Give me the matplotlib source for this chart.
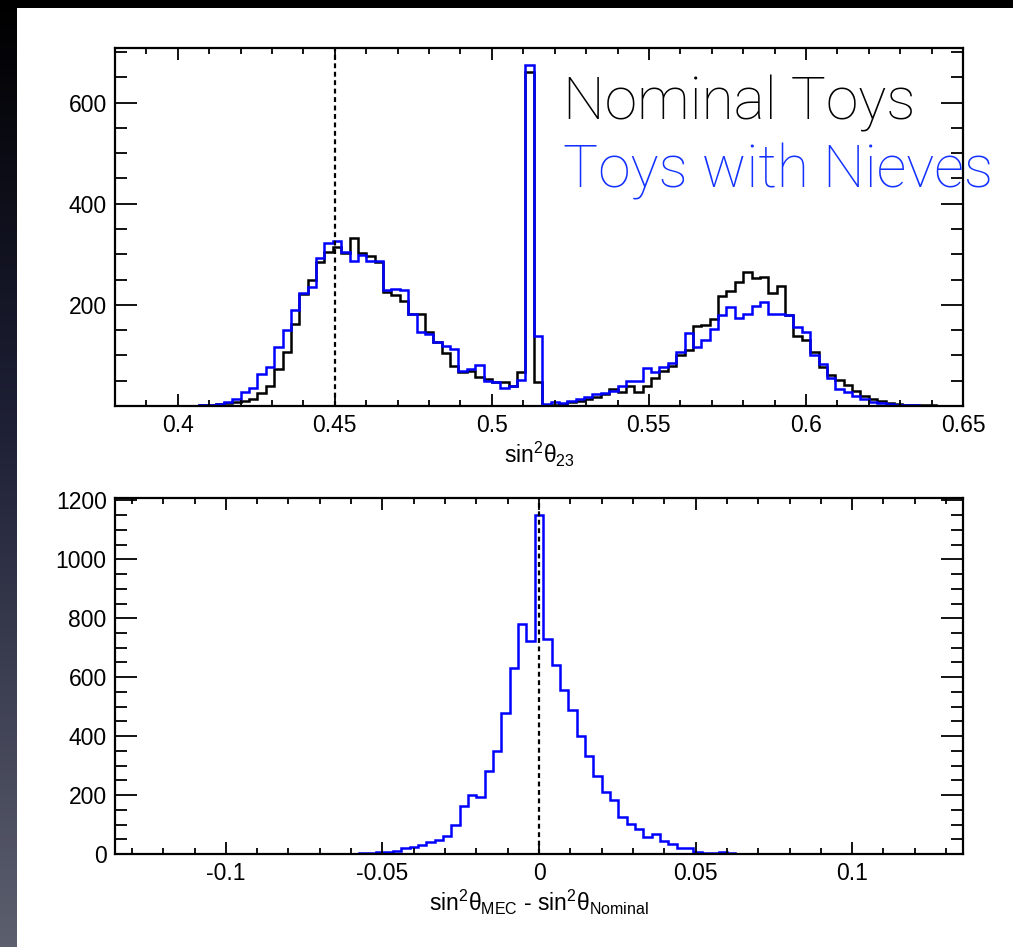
import numpy as np
import matplotlib
matplotlib.use("Agg")
import matplotlib.pyplot as plt
from matplotlib.colors import LinearSegmentedColormap
from matplotlib.ticker import MultipleLocator, FixedLocator, FuncFormatter

plt.rcParams['font.family'] = ['Liberation Sans', 'DejaVu Sans']
plt.rcParams['mathtext.fontset'] = 'custom'
plt.rcParams['mathtext.rm'] = 'Liberation Sans'
plt.rcParams['mathtext.it'] = 'Liberation Sans'
plt.rcParams['axes.unicode_minus'] = False

# sin^2(theta_23) fits, 0.38 .. 0.65, bin width 0.4/150
th23_width = 0.4 / 150
th23_lo = 0.38
nominal_toys = [
    0, 0, 0, 0, 0, 0, 0, 0, 0, 0, 1, 2,
    3, 5, 7, 10, 14, 25, 39, 73, 106, 163, 222, 250, 284, 305, 315, 303, 333,
    302, 296, 284, 226, 220, 207, 181, 181, 146, 126, 105, 80, 67, 70, 57, 53,
    47, 47, 40, 67, 661, 47,
    0, 2, 3, 7, 10, 13, 18, 24, 34, 27, 40, 27, 40, 55, 70, 80, 101, 110, 158,
    160, 172, 217, 228, 246, 265, 253, 255, 224, 238, 179, 138, 131, 106, 77,
    61, 52, 42, 30, 20, 14, 9, 5, 4, 2, 2, 1, 1, 0, 0, 0, 0,
]
nieves_toys = [
    0, 0, 0, 0, 0, 0, 0, 0, 0, 0, 1, 2,
    3, 7, 13, 28, 35, 63, 77, 116, 151, 190, 224, 235, 292, 323, 327, 305, 287,
    298, 286, 287, 230, 232, 229, 182, 146, 143, 126, 119, 113, 70, 73, 81, 50,
    47, 35, 39, 51, 674, 139,
    3, 7, 6, 9, 14, 17, 24, 26, 30, 40, 49, 50, 75, 67, 77, 85, 106, 145, 116,
    131, 152, 179, 195, 174, 182, 197, 205, 182, 182, 179, 156, 146, 100, 83,
    55, 34, 27, 20, 13, 7, 5, 3, 2, 1, 1, 0, 0, 0, 0, 0, 0,
]

# sin^2(theta)_MEC - sin^2(theta)_Nominal, bins centred on zero
diff_width = 0.4 / 150
diff_counts = [
    0, 0, 0, 0, 0, 0, 0, 0, 0, 0, 0, 0, 0, 0, 0, 0, 0, 0, 0, 0, 0, 0, 0, 0,
    0, 0, 0, 0, 0,
    1, 2, 4, 7, 8, 9, 19, 23, 31, 40, 49, 62, 100, 164, 201, 192, 283, 351,
    479, 632, 779, 724, 1151, 728, 640, 557, 487, 402, 331, 264, 209, 183,
    124, 102, 85, 59, 68, 43, 34, 19, 19, 6, 4, 3, 6, 2, 1,
    0, 0, 0, 0, 0, 0, 0, 0, 0, 0, 0, 0, 0, 0, 0, 0, 0, 0, 0, 0, 0, 0, 0, 0,
    0, 0, 0,
]

th23_edges = th23_lo + th23_width * np.arange(len(nominal_toys) + 1)
diff_edges = diff_width * (np.arange(len(diff_counts) + 1) - len(diff_counts) / 2)

blue = '#0000ff'
fig = plt.figure(figsize=(10.13, 9.47), dpi=100)
fig.patch.set_facecolor('white')

# slide frame: dark gradient down the left edge, black strip on top
strip = fig.add_axes([0, 0, 17 / 1013, 1])
grad = LinearSegmentedColormap.from_list(
    'edge', [(0, '#000000'), (0.12, '#08080f'), (0.45, '#1e2036'), (1, '#5c5f6e')])
strip.imshow(np.linspace(0, 1, 256)[:, None], aspect='auto', cmap=grad)
strip.axis('off')
top_bar = fig.add_axes([0, 939 / 947, 1, 8 / 947])
top_bar.axis('off')
top_bar.add_patch(plt.Rectangle((0, 0), 1, 1, color='black', transform=top_bar.transAxes))


def root_style(ax):
    for s in ax.spines.values():
        s.set_linewidth(1.6)
    ax.tick_params(which='both', direction='in', top=True, right=True,
                   labelsize=16.5, width=1.3, pad=6)
    ax.tick_params(axis='y', which='major', length=16)
    ax.tick_params(axis='y', which='minor', length=8.5)
    ax.tick_params(axis='x', which='major', length=8.5)
    ax.tick_params(axis='x', which='minor', length=4.5)
    ax.xaxis.set_major_locator(MultipleLocator(0.05))
    ax.xaxis.set_minor_locator(MultipleLocator(0.01))
    ax.yaxis.set_minor_locator(MultipleLocator(50))
    ax.xaxis.set_major_formatter(FuncFormatter(lambda v, p: '%g' % round(v, 3)))


# upper panel
ax1 = fig.add_axes([115 / 1013, 541 / 947, 848 / 1013, 358 / 947])
ax1.stairs(nominal_toys, th23_edges, color='black', lw=1.8)
ax1.stairs(nieves_toys, th23_edges, color=blue, lw=1.8)
ax1.axvline(0.45, color='black', lw=1.6, ls=(0, (2.2, 1.6)))
ax1.set_xlim(0.38, 0.65)
ax1.set_ylim(0, 708)
root_style(ax1)
ax1.yaxis.set_major_locator(FixedLocator([200, 400, 600]))
ax1.set_xlabel(r'sin$^{2}\theta_{23}$', fontsize=16.5, labelpad=2)

# lower panel
ax2 = fig.add_axes([115 / 1013, 93 / 947, 848 / 1013, 356 / 947])
ax2.stairs(diff_counts, diff_edges, color=blue, lw=1.8)
ax2.axvline(0, color='black', lw=1.6, ls=(0, (2.2, 1.6)))
ax2.set_xlim(-0.1354, 0.1354)
ax2.set_ylim(0, 1208)
root_style(ax2)
ax2.yaxis.set_major_locator(MultipleLocator(200))
ax2.set_xlabel(r'sin$^{2}\theta_{\mathregular{MEC}}$ - sin$^{2}\theta_{\mathregular{Nominal}}$',
               fontsize=16.5, labelpad=2)

# legend text written on the slide
fig.text(563 / 1013, (947 - 120) / 947, 'Nominal Toys', color='black',
         fontsize=42.3, family=['Roboto', 'DejaVu Sans'], fontweight='light',
         ha='left', va='baseline')
fig.text(563 / 1013, (947 - 187) / 947, 'Toys with Nieves', color='#1432ff',
         fontsize=42.3, family=['Roboto', 'DejaVu Sans'], fontweight='light',
         ha='left', va='baseline')

fig.savefig('out.png', dpi=100, facecolor='white')
